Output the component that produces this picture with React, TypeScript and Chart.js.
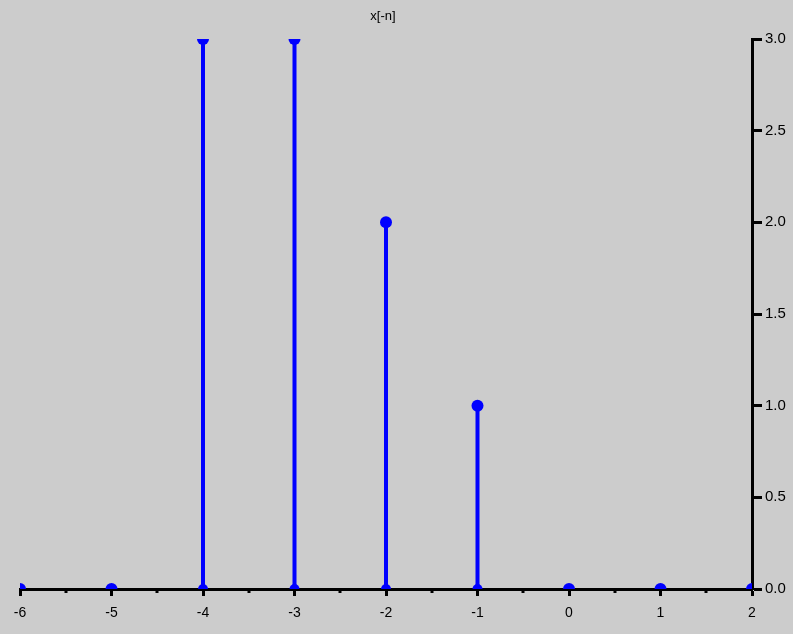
import React, { useEffect, useRef } from "react";
import { Chart, registerables } from "chart.js";

Chart.register(...registerables);

const nValues = [-6, -5, -4, -3, -2, -1, 0, 1, 2];
const xValues = [0, 0, 3, 3, 2, 1, 0, 0, 0];
const yTicks = [0, 0.5, 1.0, 1.5, 2.0, 2.5, 3.0];
const title = "x[-n]";

const BG = "#cccccc";
const BLUE = "#0000ff";
const FONT = "Liberation Sans, Arial, sans-serif";

const extras = {
  id: "extras",
  afterDraw(chart: any) {
    const { ctx, scales, chartArea } = chart;
    const xs = scales.x;
    const y0 = xs.top;
    ctx.save();
    ctx.strokeStyle = "#000";
    ctx.lineWidth = 3;
    for (let v = -5.5; v < 2; v += 1) {
      const px = Math.round(xs.getPixelForValue(v));
      ctx.beginPath();
      ctx.moveTo(px, y0);
      ctx.lineTo(px, y0 + 4);
      ctx.stroke();
    }
    ctx.fillStyle = "#000";
    ctx.font = `13px ${FONT}`;
    ctx.textAlign = "center";
    ctx.textBaseline = "middle";
    ctx.fillText(title, (chartArea.left + chartArea.right) / 2 - 3, 16);
    ctx.restore();
  },
};

export default function App() {
  const ref = useRef<HTMLCanvasElement>(null);
  useEffect(() => {
    document.body.style.margin = "0";
    document.body.style.background = BG;
    const stems: any[] = [];
    nValues.forEach((n, i) => {
      stems.push({ x: n, y: 0 });
      stems.push({ x: n, y: xValues[i] });
      stems.push({ x: n, y: null });
    });
    const tops = nValues.map((n, i) => ({ x: n, y: xValues[i] }));
    const bases = nValues.map((n) => ({ x: n, y: 0 }));
    const chart = new Chart(ref.current!, {
      type: "scatter",
      data: {
        datasets: [
          {
            data: stems,
            showLine: true,
            spanGaps: false,
            borderColor: BLUE,
            borderWidth: 4,
            pointRadius: 0,
          },
          {
            data: bases,
            pointRadius: 5,
            pointBackgroundColor: BLUE,
            pointBorderWidth: 0,
          },
          {
            data: tops,
            pointRadius: 6,
            pointBackgroundColor: BLUE,
            pointBorderWidth: 0,
          },
        ],
      },
      plugins: [extras],
      options: {
        animation: false,
        responsive: false,
        layout: { padding: { left: 20, right: 0, top: 39, bottom: 0 } },
        plugins: {
          legend: { display: false },
          tooltip: { enabled: false },
          title: { display: false },
        },
        scales: {
          x: {
            type: "linear",
            min: -6,
            max: 2,
            afterFit: (s: any) => {
              s.height = 45;
            },
            border: { display: true, color: "#000", width: 3 },
            grid: { drawOnChartArea: false, drawTicks: true, tickLength: 7, tickWidth: 3, tickColor: "#000" },
            ticks: {
              stepSize: 1,
              color: "#000",
              font: { family: FONT, size: 14 },
              padding: 9,
              maxRotation: 0,
              callback: (v: any) => String(v),
            },
          },
          y: {
            type: "linear",
            position: "right",
            min: 0,
            max: 3,
            afterFit: (s: any) => {
              s.width = 41;
            },
            afterBuildTicks: (s: any) => {
              s.ticks = yTicks.map((v) => ({ value: v }));
            },
            border: { display: true, color: "#000", width: 3 },
            grid: { drawOnChartArea: false, drawTicks: true, tickLength: 10, tickWidth: 3, tickColor: "#000" },
            ticks: {
              color: "#000",
              font: { family: FONT, size: 15 },
              padding: 3,
              callback: (v: any) => Number(v).toFixed(1),
            },
          },
        },
      },
    });
    return () => chart.destroy();
  }, []);
  return (
    <div style={{ width: 793, height: 634, background: BG }}>
      <canvas ref={ref} width={793} height={634} style={{ display: "block" }} />
    </div>
  );
}
